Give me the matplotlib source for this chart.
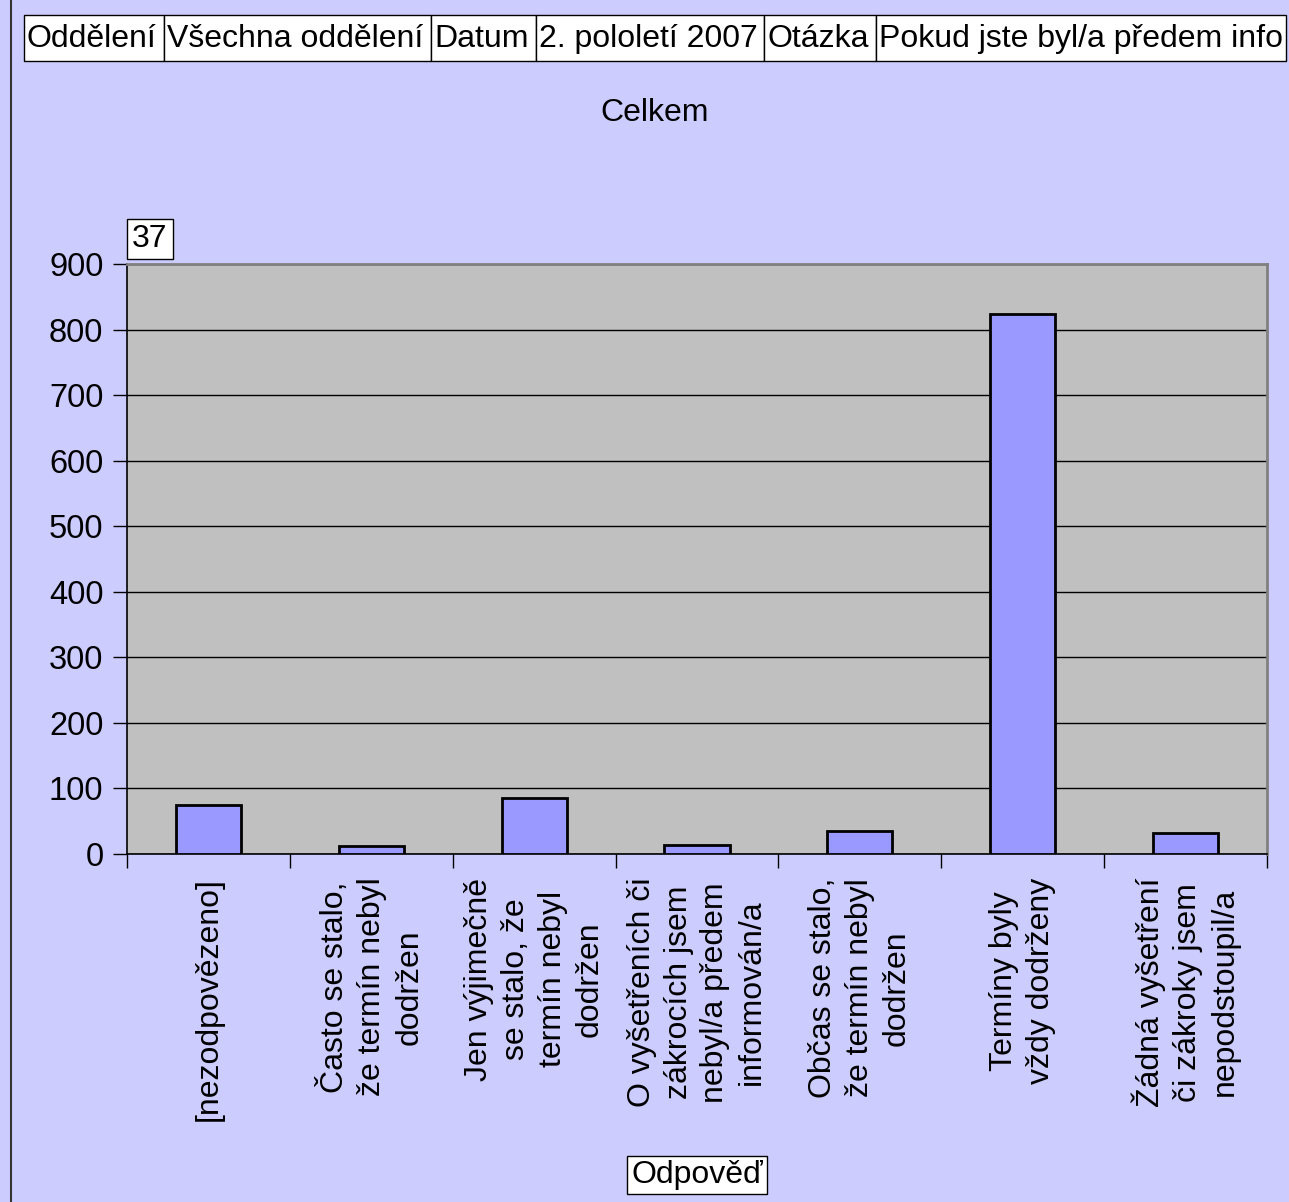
import matplotlib
matplotlib.use("Agg")
import matplotlib.pyplot as plt
from matplotlib.patches import Rectangle
from matplotlib.lines import Line2D

plt.rcParams['font.family'] = ['Liberation Sans', 'DejaVu Sans']

categories = [
    "[nezodpovězeno]",
    "Často se stalo,\nže termín nebyl\ndodržen",
    "Jen výjimečně\nse stalo, že\ntermín nebyl\ndodržen",
    "O vyšetřeních či\nzákrocích jsem\nnebyl/a předem\ninformován/a",
    "Občas se stalo,\nže termín nebyl\ndodržen",
    "Termíny byly\nvždy dodrženy",
    "Žádná vyšetření\nči zákroky jsem\nnepodstoupil/a",
]
values = [75, 12, 85, 13, 35, 824, 32]
yticks = [0, 100, 200, 300, 400, 500, 600, 700, 800, 900]
header = ["Oddělení", "Všechna oddělení", "Datum", "2. pololetí 2007", "Otázka", "Pokud jste byl/a předem info"]
title = "Celkem"
xlabel = "Odpověď"
count_label = "37"

FS = 23
W, H = 1289, 1202
fig = plt.figure(figsize=(W / 100, H / 100), dpi=100)
fig.patch.set_facecolor('#CCCCFF')

# left border of chart area
fig.add_artist(Line2D([11 / W, 11 / W], [0, 1], color='#333333', lw=1.5))

# header table
edges = [24, 164, 431, 536, 764, 876, 1286]
y0, y1 = 15, 61
for i, txt in enumerate(header):
    xa, xb = edges[i], edges[i + 1]
    fig.add_artist(Rectangle((xa / W, 1 - y1 / H), (xb - xa) / W, (y1 - y0) / H,
                             transform=fig.transFigure, facecolor='white',
                             edgecolor='black', lw=1))
    fig.text((xa + 3) / W, 1 - (y0 + y1) / 2 / H - 0.001, txt, ha='left', va='center',
             fontsize=FS, clip_on=False)

fig.text(655 / W, 1 - 113 / H, title, ha='center', va='center', fontsize=FS)

left, right, top, bottom = 127, 1267, 264, 854
ax = fig.add_axes([left / W, 1 - bottom / H, (right - left) / W, (bottom - top) / H])
ax.set_facecolor('#C0C0C0')

x = list(range(len(values)))
ax.bar(x, values, width=0.4, color='#9999FF', edgecolor='black', linewidth=2, zorder=3)
ax.set_xlim(-0.5, len(values) - 0.5)
ax.set_ylim(0, 900)
ax.set_yticks(yticks)
ax.set_yticklabels([str(t) for t in yticks], fontsize=FS + 0.5)
ax.yaxis.grid(True, color='black', lw=1, zorder=1)
ax.set_axisbelow(True)

ax.set_xticks([i - 0.5 for i in range(len(values) + 1)])
ax.set_xticklabels([])
ax.tick_params(axis='x', direction='out', length=10, width=1, color='black')
ax.tick_params(axis='y', direction='out', length=10, width=1, color='black', pad=7)

for i, lab in enumerate(categories):
    ax.text(i, -0.04, lab, transform=ax.get_xaxis_transform(), rotation=90,
            ha='center', va='top', multialignment='center', fontsize=FS,
            linespacing=1.3)

for s in ['left', 'bottom']:
    ax.spines[s].set_color('black')
    ax.spines[s].set_linewidth(1.2)
for s in ['top', 'right']:
    ax.spines[s].set_color('#808080')
    ax.spines[s].set_linewidth(2)

fig.text(132 / W, 1 - 239 / H, count_label, ha='left', va='center', fontsize=FS,
         bbox=dict(boxstyle='square,pad=0.16', facecolor='white', edgecolor='black', lw=1))

fig.text(697 / W, 1 - 1175 / H, xlabel, ha='center', va='center', fontsize=FS,
         bbox=dict(boxstyle='square,pad=0.12', facecolor='white', edgecolor='black', lw=1))

fig.savefig('out.png', dpi=100, facecolor=fig.get_facecolor())
